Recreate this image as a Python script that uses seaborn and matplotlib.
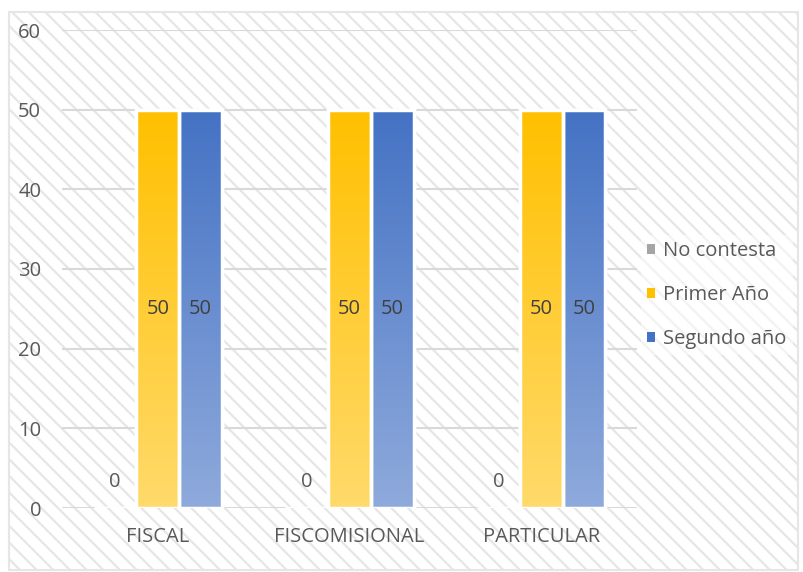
import numpy as np
import pandas as pd
import seaborn as sns
from matplotlib import pyplot as plt
from matplotlib.patches import Rectangle, Patch
from matplotlib.colors import LinearSegmentedColormap

categorias = ['FISCAL', 'FISCOMISIONAL', 'PARTICULAR']
series = ['No contesta', 'Primer Año', 'Segundo año']
no_contesta = [0, 0, 0]
primer_anio = [50, 50, 50]
segundo_anio = [50, 50, 50]
yticks = [0, 10, 20, 30, 40, 50, 60]

colores = {'No contesta': '#a5a5a5', 'Primer Año': '#ffc000', 'Segundo año': '#4472c4'}
claros = {'No contesta': '#c9c9c9', 'Primer Año': '#ffda6b', 'Segundo año': '#8faadc'}

df = pd.DataFrame({
    'tipo': categorias * 3,
    'grupo': [s for s in series for _ in categorias],
    'valor': no_contesta + primer_anio + segundo_anio,
})

sns.set_style('white')
plt.rcParams['font.family'] = ['Open Sans', 'DejaVu Sans']
plt.rcParams['hatch.linewidth'] = 1.6
gris = '#595959'
fs = 14.5

fig = plt.figure(figsize=(8.04, 5.72), dpi=100)
fondo = Rectangle((9 / 804, 2 / 572), 789 / 804, 558 / 572, transform=fig.transFigure,
                  facecolor='white', edgecolor='#e6e6e6', hatch='\\\\', linewidth=1.5, zorder=-1)
fig.patches.append(fondo)

ax = fig.add_axes([62 / 804, 64 / 572, 575 / 804, 478 / 572])
ax.set_facecolor('none')

sns.barplot(data=df, x='tipo', y='valor', hue='grupo', hue_order=series,
            palette=colores, width=0.67, edgecolor='white', linewidth=2.5,
            legend=False, ax=ax, zorder=2)

# degradado dentro de cada barra
for cont, nombre in zip(ax.containers, series):
    cmap = LinearSegmentedColormap.from_list(nombre, [claros[nombre], colores[nombre]])
    grad = np.linspace(0, 1, 256).reshape(-1, 1)
    for p in cont.patches:
        h = p.get_height()
        if h <= 0:
            continue
        x0 = p.get_x()
        w = p.get_width()
        im = ax.imshow(grad, cmap=cmap, origin='lower', aspect='auto',
                       extent=(x0, x0 + w, 0, h), zorder=2.1)
        im.set_clip_path(p)
        ax.add_patch(Rectangle((x0, 0), w, h, facecolor='none', edgecolor='white',
                               linewidth=2.5, zorder=2.2))
    for p, v in zip(cont.patches, cont.datavalues):
        xc = p.get_x() + p.get_width() / 2
        if v == 0:
            ax.annotate(f'{v:.0f}', (xc, 0), xytext=(0, 19), textcoords='offset points',
                        ha='center', va='center', fontsize=fs, color=gris, zorder=3)
        else:
            ax.text(xc, v / 2, f'{v:.0f}', ha='center', va='center', fontsize=fs,
                    color='#404040', zorder=3)

ax.set_xlim(-0.5, 2.5)
ax.set_ylim(0, 60)
ax.set_yticks(yticks)
ax.yaxis.grid(True, color='#d9d9d9', linewidth=1.5, zorder=1)
ax.set_axisbelow(True)
for s in ax.spines.values():
    s.set_visible(False)
ax.tick_params(axis='y', length=0, pad=15, labelsize=fs, labelcolor=gris)
ax.tick_params(axis='x', length=0, pad=14, labelsize=fs, labelcolor=gris)
ax.set_xlabel('')
ax.set_ylabel('')

handles = [Patch(facecolor=colores[s], edgecolor='white', linewidth=0) for s in series]
leg = ax.legend(handles, series, loc='center left', bbox_to_anchor=(0.99, 0.445),
                frameon=True, fontsize=fs, handlelength=0.4, handleheight=0.4,
                handletextpad=0.4, labelspacing=1.2, borderpad=0.3)
leg.get_frame().set_facecolor('white')
leg.get_frame().set_alpha(0.5)
leg.get_frame().set_linewidth(0)
for t in leg.get_texts():
    t.set_color(gris)

fig.savefig('out.png', dpi=100)
